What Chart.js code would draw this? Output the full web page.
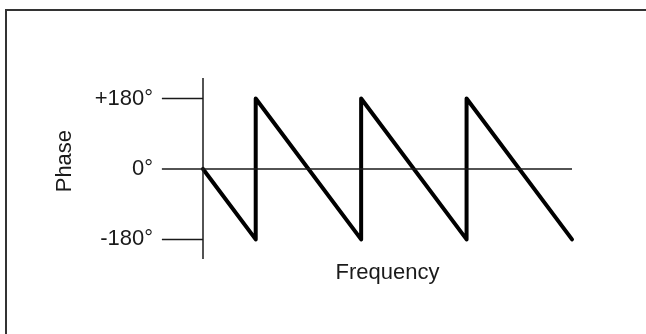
<!DOCTYPE html>
<html>
<head>
<meta charset="utf-8">
<script src="https://cdn.jsdelivr.net/npm/chart.js@4/dist/chart.umd.min.js"></script>
<style>
    html, body { margin: 0; padding: 0; background: #fff; overflow: hidden; }
    .frame {
        position: absolute; left: 5px; top: 9px; right: -10px; bottom: -10px;
        border: 2px solid #333;
    }
    #phaseChart { position: absolute; left: 0; top: 0; }
</style>
</head>
<body>
<div class="frame"></div>
<canvas id="phaseChart" width="646" height="334"></canvas>
<script>
// Sawtooth phase response (frequency in arbitrary units, phase in degrees)
const freqPoints = [0, 1, 1, 3, 3, 5, 5, 7];
const phasePoints = [0, -180, 180, -180, 180, -180, 180, -180];

// y tick marks and their labels
const tickValues = [-180, 0, 180];
const tickLabels = ['-180°', '0°', '+180°'];

// hand-drawn axis extents (data units)
const axisLeft = -0.78;
const axisTop = 232;
const axisBottom = -230;

const xTitle = 'Frequency';
const yTitle = 'Phase';

const ink = '#1a1a1a';
const font = { family: "'Liberation Sans', Arial, sans-serif", size: 22 };

const toXY = (xs, ys) => xs.map((x, i) => ({ x: x, y: ys[i] }));

const guide = (points) => ({
    data: points,
    borderColor: ink,
    borderWidth: 1.5,
    pointRadius: 0,
    showLine: true,
    clip: false
});

const datasets = [
    // vertical axis
    guide(toXY([0, 0], [axisBottom, axisTop])),
    // zero line
    guide(toXY([axisLeft, freqPoints[freqPoints.length - 1]], [0, 0])),
    // +180 / -180 tick lines
    guide(toXY([axisLeft, 0], [tickValues[2], tickValues[2]])),
    guide(toXY([axisLeft, 0], [tickValues[0], tickValues[0]])),
    {
        data: toXY(freqPoints, phasePoints),
        borderColor: '#000',
        borderWidth: 4,
        borderJoinStyle: 'round',
        borderCapStyle: 'round',
        pointRadius: 0,
        showLine: true,
        clip: false
    }
];

new Chart(document.getElementById('phaseChart'), {
    type: 'scatter',
    data: { datasets: datasets },
    options: {
        responsive: false,
        animation: false,
        devicePixelRatio: 1,
        layout: { padding: { top: 61, right: 74, bottom: 47.6, left: 0 } },
        plugins: { legend: { display: false }, tooltip: { enabled: false } },
        scales: {
            x: {
                type: 'linear',
                min: 0,
                max: 7,
                grid: { display: false, drawTicks: false },
                border: { display: false },
                ticks: { display: false },
                title: { display: true, text: xTitle, color: ink, font: font, padding: { top: 1, bottom: 0 } }
            },
            y: {
                min: axisBottom,
                max: 270,
                grid: { display: false, drawTicks: false },
                border: { display: false },
                afterBuildTicks: (scale) => {
                    scale.ticks = tickValues.map(v => ({ value: v }));
                },
                afterFit: (scale) => { scale.width = 203; },
                ticks: {
                    color: ink,
                    font: font,
                    padding: 50,
                    callback: (value) => tickLabels[tickValues.indexOf(value)]
                },
                title: { display: true, text: yTitle, color: ink, font: font, padding: { top: 52, bottom: 0 } }
            }
        }
    }
});
</script>
</body>
</html>
